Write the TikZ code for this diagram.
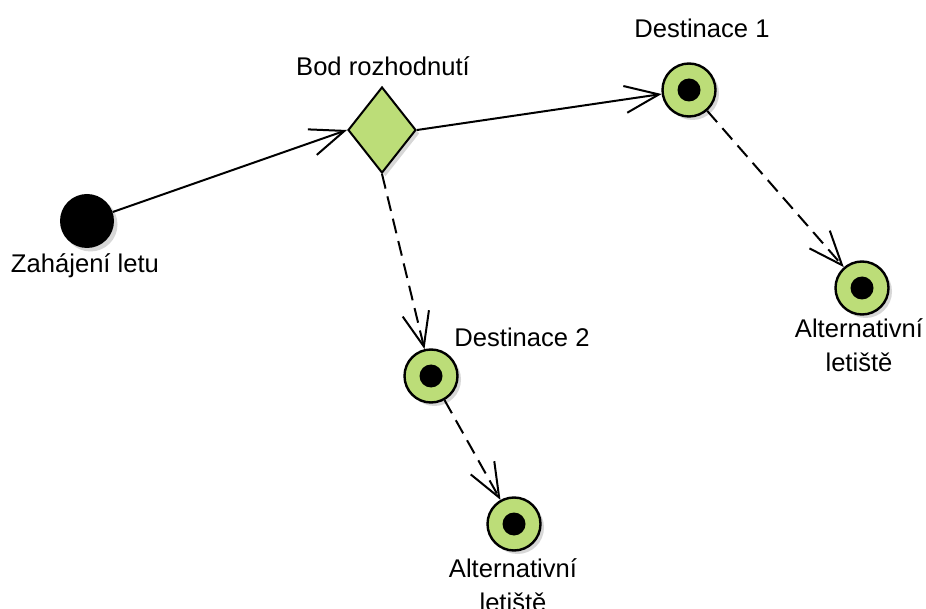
\documentclass[tikz,border=0pt]{standalone}
\usepackage{fontspec}
\setmainfont{Liberation Sans}
\usetikzlibrary{shapes.geometric,arrows.meta,shadows}
\definecolor{nodegreen}{RGB}{188,221,120}
\definecolor{shadowgray}{RGB}{215,215,215}
\begin{document}
\begin{tikzpicture}[x=1pt,y=-1pt,
  lbl/.style={font=\fontsize{25.6}{30}\selectfont, inner sep=0pt, anchor=base},
  shade3/.style={drop shadow={shadow xshift=3.5pt, shadow yshift=-3.5pt, fill=shadowgray, opacity=1}},
  startnode/.style={circle, fill=black, minimum size=54pt, inner sep=0pt, shade3},
  decision/.style={diamond, draw, line width=2pt, fill=nodegreen, minimum width=68pt, minimum height=86pt, inner sep=0pt, shade3},
  finalnode/.style={circle, draw, line width=2.4pt, fill=nodegreen, minimum size=53pt, inner sep=0pt, shade3,
    path picture={\fill[black] (path picture bounding box.center) circle (11.5pt);}},
  flow/.style={line width=2pt, -{Straight Barb[length=34pt, width=27pt, line width=2pt]}},
  altflow/.style={flow, dash pattern=on 15pt off 8pt}
]
\useasboundingbox (0,0) rectangle (926,609);

% nodes
\node[startnode] (start) at (87,221) {};
\node[decision] (dec) at (382,130) {};
\node[finalnode] (d1) at (689,90) {};
\node[finalnode] (d2) at (431,376) {};
\node[finalnode] (a1) at (862,288) {};
\node[finalnode] (a2) at (514,524) {};

% labels
\node[lbl] (lstart) at (85,273) {Zahájení letu};
\node[lbl] (ldec) at (383,76) {Bod rozhodnutí};
\node[lbl] (ld1) at (702,38) {Destinace 1};
\node[lbl] (ld2) at (522,347) {Destinace 2};
\node[lbl] (la1a) at (859,338) {Alternativní};
\node[lbl] (la1b) at (859,372) {letiště};
\node[lbl] (la2a) at (513,577) {Alternativní};
\node[lbl] (la2b) at (513,611) {letiště};

% connectors
\draw[flow] (start) -- (dec.west);
\draw[flow] (dec.east) -- (d1);
\draw[altflow] (dec.south) -- (d2);
\draw[altflow] (d1) -- (a1);
\draw[altflow] (d2) -- (a2);
\end{tikzpicture}
\end{document}
